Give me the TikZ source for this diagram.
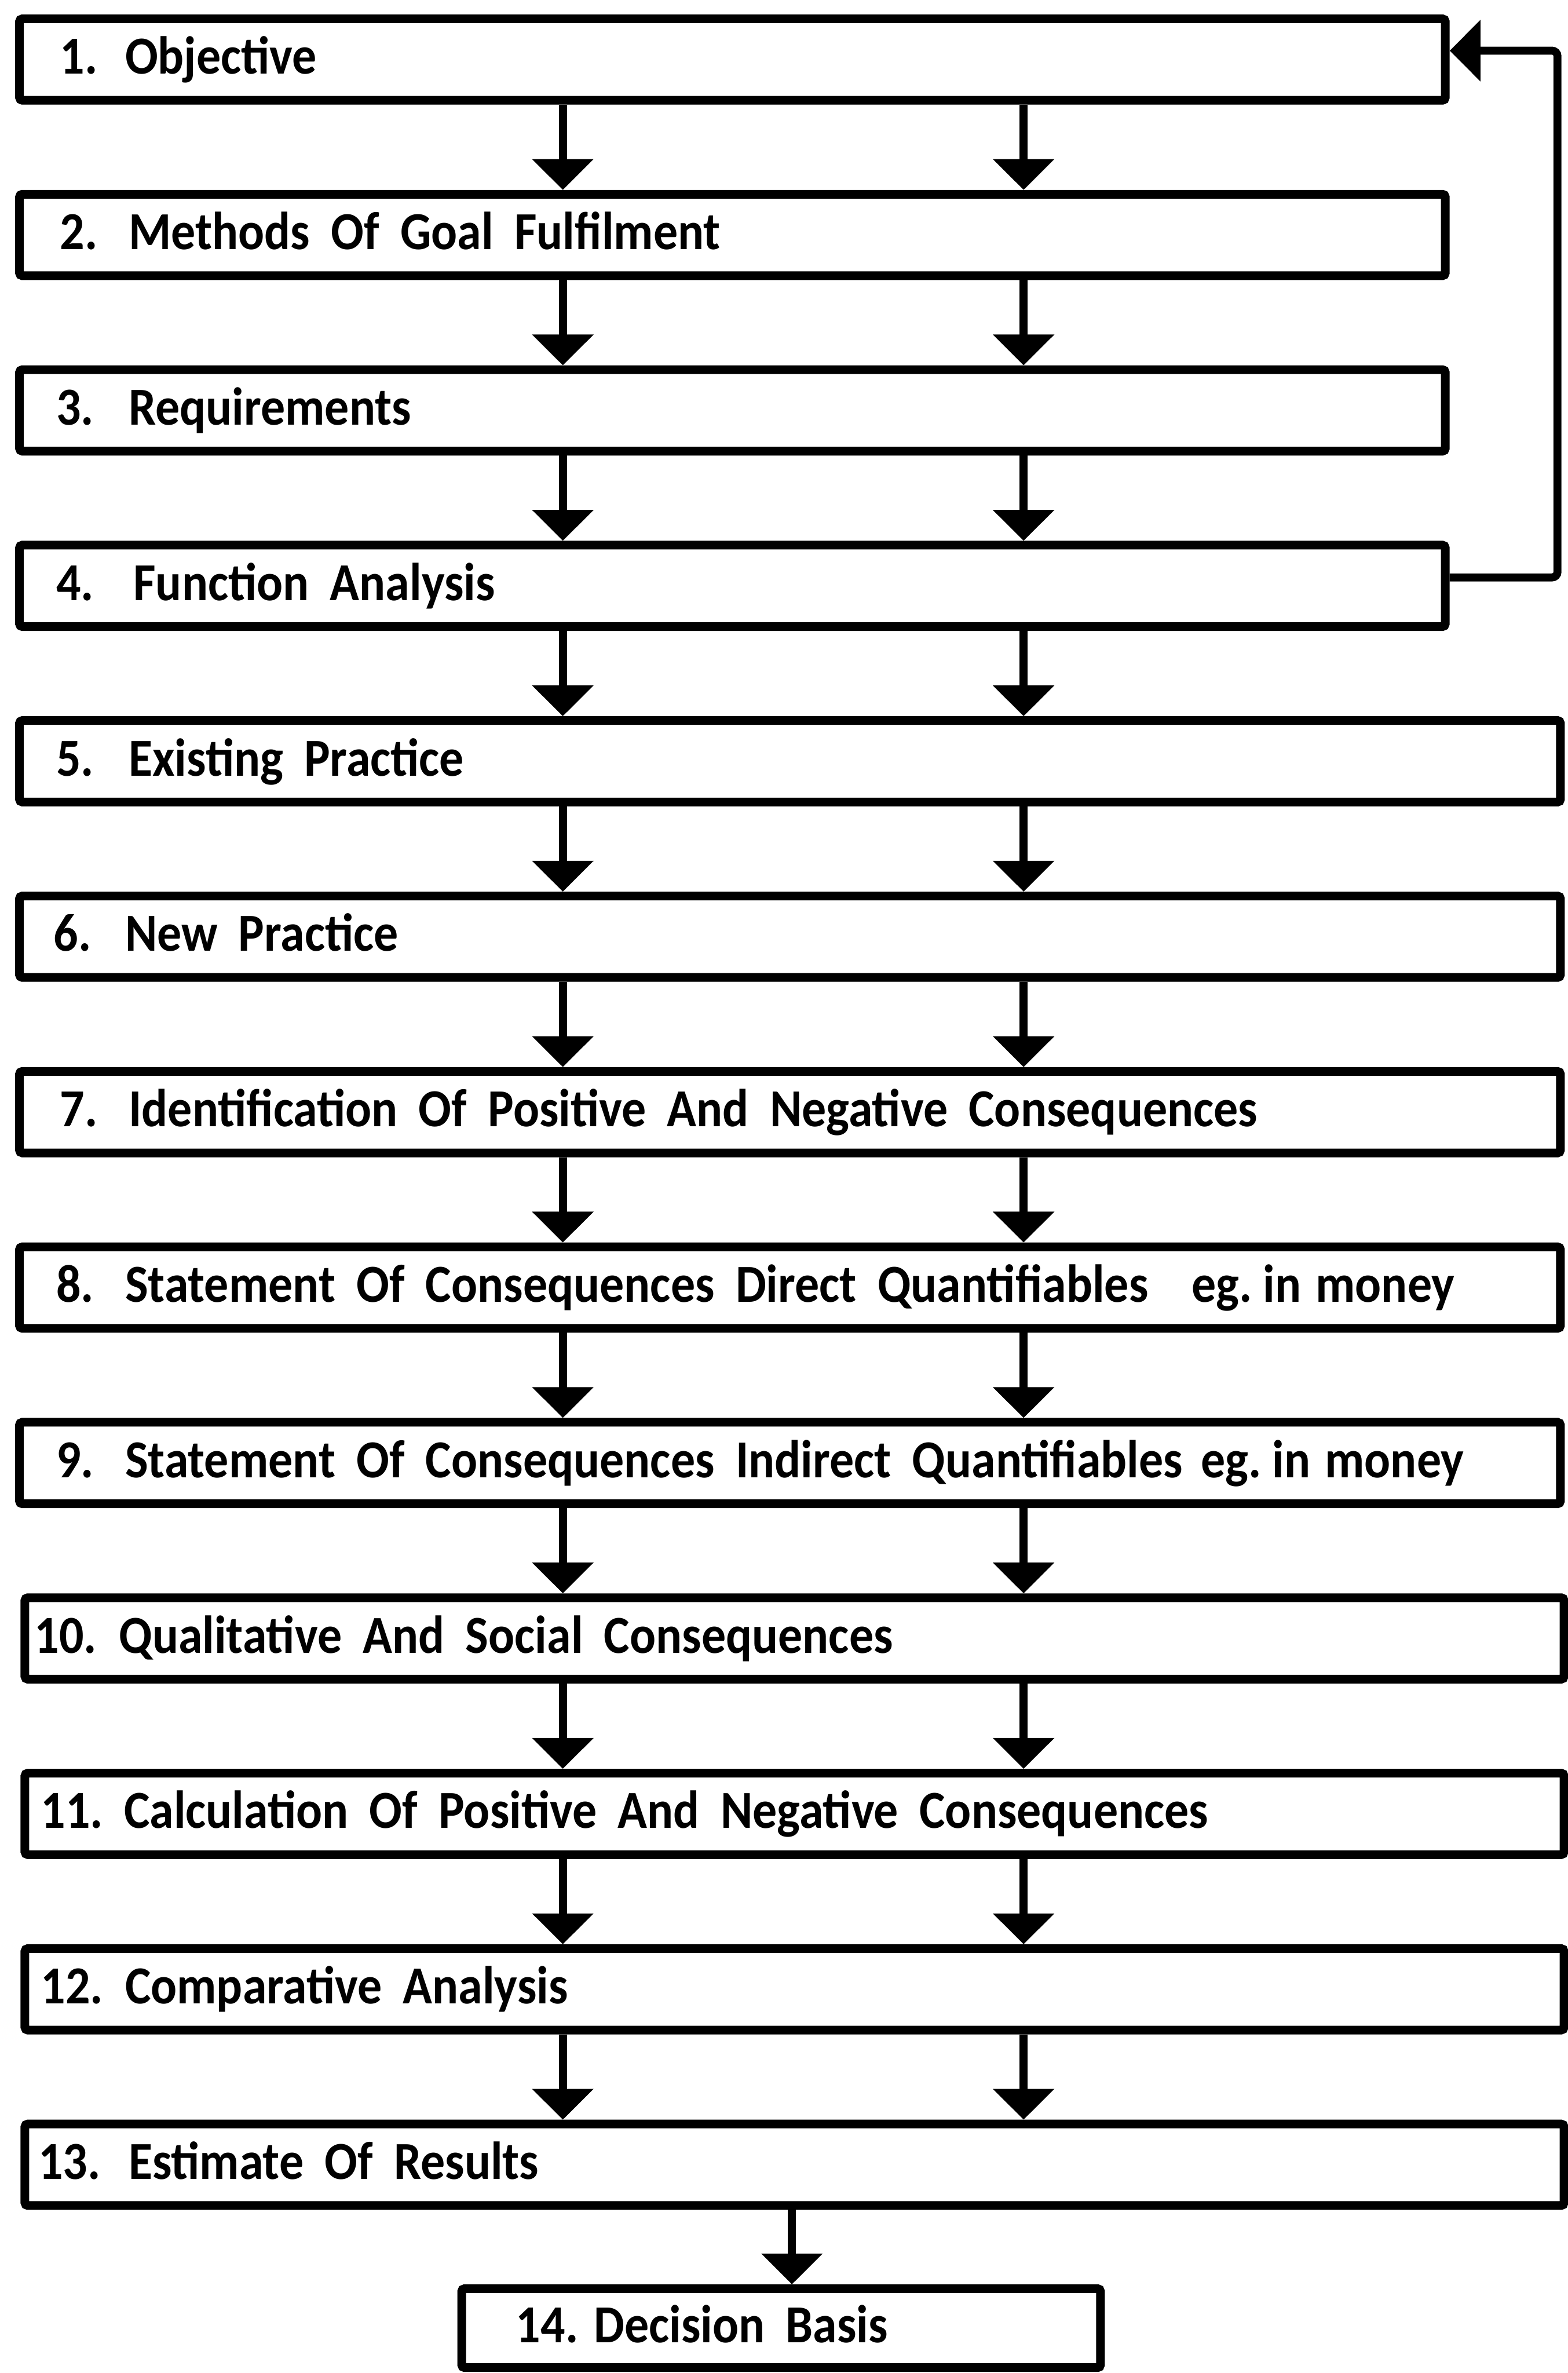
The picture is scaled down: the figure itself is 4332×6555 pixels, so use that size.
\documentclass[tikz,border=0pt]{standalone}
\usepackage{fontspec}
\setmainfont{Carlito}[FakeStretch=0.91]
\usetikzlibrary{arrows.meta}
\newcommand\stepfont{\fontsize{42}{50}\selectfont\bfseries\spaceskip 0.58cm\relax}
\begin{document}
\begin{tikzpicture}[x=0.01cm,y=-0.01cm,
  box/.style={draw=black, line width=0.24cm, rounded corners=0.08cm,
    minimum height=2.25cm, inner sep=0pt},
  wideA/.style={box, minimum width=39.37cm},
  wideB/.style={box, minimum width=42.55cm},
  wideC/.style={box, minimum width=42.50cm},
  arr/.style={line width=0.22cm, -{Triangle[length=0.85cm,width=1.65cm]}},
  txt/.style={anchor=base west, inner sep=0pt, font=\stepfont}
]
\useasboundingbox (0,0) rectangle (4332,6555);

% shaft positions of the paired arrows
\coordinate (ax) at (1555,0);
\coordinate (bx) at (2828,0);
\coordinate (cx) at (2188,0);

% step boxes
\node[wideA] (b1)  at (2023.5,164.5)  {};
\node[wideA] (b2)  at (2023.5,649.1)  {};
\node[wideA] (b3)  at (2023.5,1133.7) {};
\node[wideA] (b4)  at (2023.5,1618.3) {};
\node[wideB] (b5)  at (2182.5,2102.9) {};
\node[wideB] (b6)  at (2182.5,2587.5) {};
\node[wideB] (b7)  at (2182.5,3072.1) {};
\node[wideB] (b8)  at (2182.5,3556.7) {};
\node[wideB] (b9)  at (2182.5,4041.3) {};
\node[wideC] (b10) at (2195,4525.9)   {};
\node[wideC] (b11) at (2195,5010.5)   {};
\node[wideC] (b12) at (2195,5495.1)   {};
\node[wideC] (b13) at (2195,5979.7)   {};
\node[box, minimum width=17.64cm, minimum height=2.18cm] (b14) at (2158,6431) {};

% numbers
\node[txt] (n1)  at (165,204.5)   {1.};
\node[txt] (n2)  at (165,689.1)   {2.};
\node[txt] (n3)  at (155,1173.7)  {3.};
\node[txt] (n4)  at (155,1658.3)  {4.};
\node[txt] (n5)  at (155,2142.9)  {5.};
\node[txt] (n6)  at (148,2627.5)  {6.};
\node[txt] (n7)  at (165,3112.1)  {7.};
\node[txt] (n8)  at (155,3596.7)  {8.};
\node[txt] (n9)  at (155,4081.3)  {9.};
\node[txt] (n10) at (95,4565.9)   {10.};
\node[txt] (n11) at (112,5050.5)  {11.};
\node[txt] (n12) at (112,5535.1)  {12.};
\node[txt] (n13) at (105,6019.7)  {13.};
\node[txt] (n14) at (1425,6471)   {14.};

% step texts
\node[txt] (l1)  at (345,204.5)   {Objective};
\node[txt] (l2)  at (355,689.1)   {Methods Of Goal Fulfilment};
\node[txt] (l3)  at (355,1173.7)  {Requirements};
\node[txt] (l4)  at (368,1658.3)  {Function Analysis};
\node[txt] (l5)  at (355,2142.9)  {Existing Practice};
\node[txt] (l6)  at (345,2627.5)  {New Practice};
\node[txt] (l7)  at (355,3112.1)  {Identification Of Positive And Negative Consequences};
\node[txt] (l8)  at (345,3596.7)  {Statement Of Consequences Direct Quantifiables\hspace{1.2cm}eg.\hspace{0.3cm}in\hspace{0.4cm}money};
\node[txt] (l9)  at (345,4081.3)  {Statement Of Consequences Indirect Quantifiables\hspace{0.5cm}eg.\hspace{0.3cm}in\hspace{0.4cm}money};
\node[txt] (l10) at (328,4565.9)  {Qualitative And Social Consequences};
\node[txt] (l11) at (342,5050.5)  {Calculation Of Positive And Negative Consequences};
\node[txt] (l12) at (345,5535.1)  {Comparative Analysis};
\node[txt] (l13) at (355,6019.7)  {Estimate Of Results};
\node[txt] (l14) at (1640,6471)   {Decision Basis};

% paired arrows between consecutive steps
\foreach \a/\b in {b1/b2,b2/b3,b3/b4,b4/b5,b5/b6,b6/b7,b7/b8,b8/b9,b9/b10,b10/b11,b11/b12,b12/b13}{
  \draw[arr] (\a.south -| ax) -- (\b.north -| ax);
  \draw[arr] (\a.south -| bx) -- (\b.north -| bx);
}
\draw[arr] (b13.south -| cx) -- (b14.north -| cx);

% feedback loop from step 4 back to step 1
\coordinate (fbA) at (4303,1595);
\coordinate (fbB) at (4303,140);
\draw[arr, rounded corners=0.15cm] (b4.east |- fbA) -- (fbA) -- (fbB) -- (b1.east |- fbB);
\end{tikzpicture}
\end{document}
